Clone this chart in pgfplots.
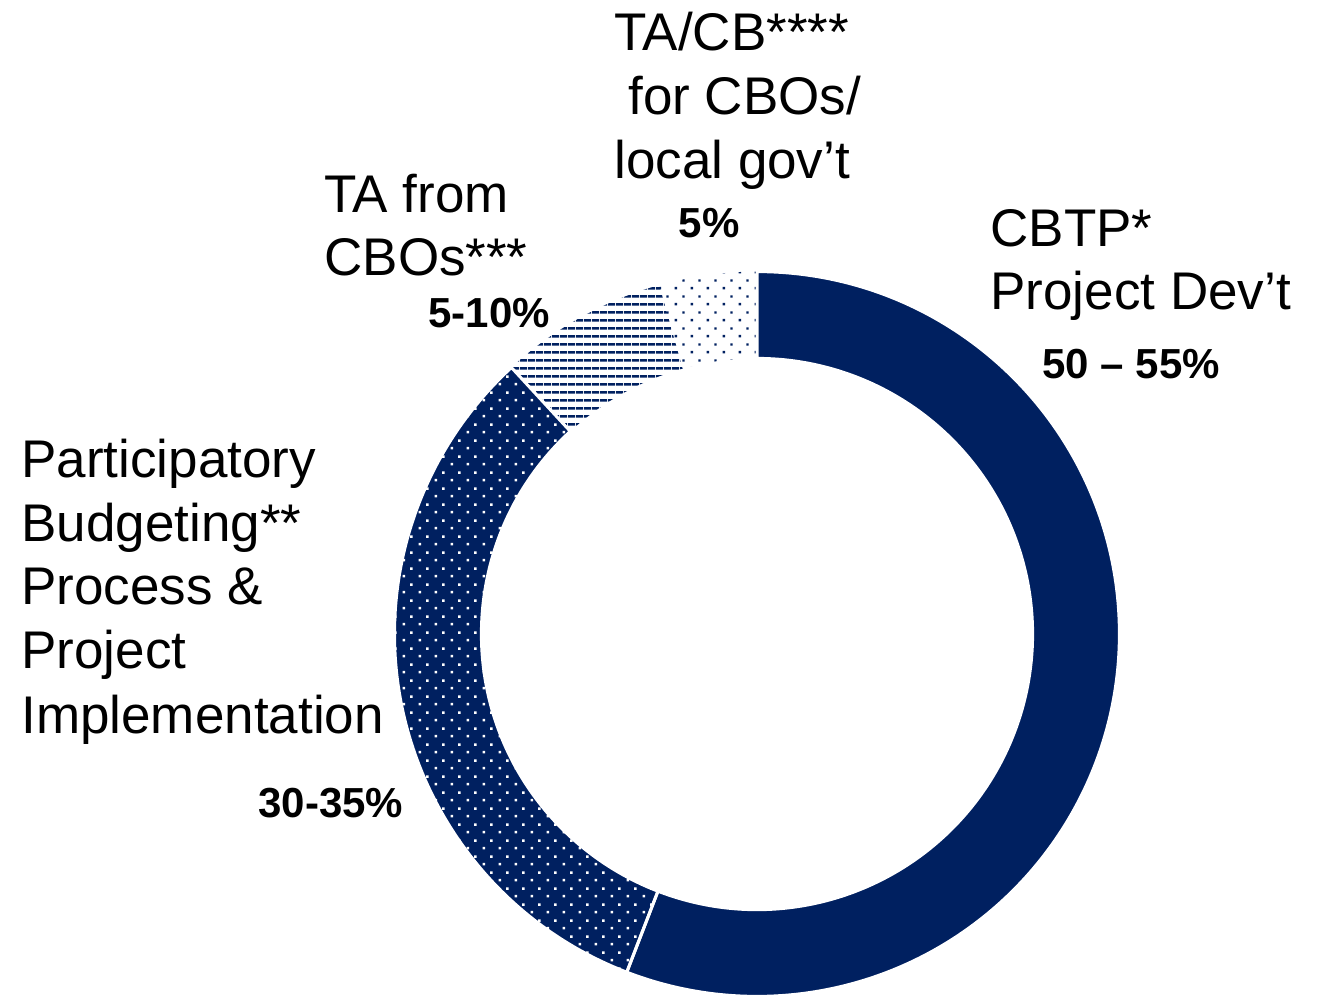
\documentclass[border=0pt]{standalone}
\usepackage{pgfplots}
\pgfplotsset{compat=1.18}
\usepackage{pgfplotstable}
\usetikzlibrary{patterns}
\usepackage{fontspec}
\setmainfont{Liberation Sans}
\definecolor{navy}{HTML}{002060}
\pgfdeclarepatternformonly{stagdots}{\pgfpoint{0pt}{0pt}}{\pgfpoint{8pt}{8pt}}{\pgfpoint{8pt}{8pt}}{%
  \pgfpathrectangle{\pgfpoint{1.4pt}{1.4pt}}{\pgfpoint{1.3pt}{1.3pt}}%
  \pgfpathrectangle{\pgfpoint{5.4pt}{5.4pt}}{\pgfpoint{1.3pt}{1.3pt}}%
  \pgfusepath{fill}}
\pgfdeclarepatternformonly{hstripes}{\pgfpoint{0pt}{0pt}}{\pgfpoint{4pt}{4pt}}{\pgfpoint{4pt}{4pt}}{%
  \pgfpathrectangle{\pgfpoint{0pt}{1.3pt}}{\pgfpoint{4pt}{1.4pt}}%
  \pgfusepath{fill}}
\newcommand\lab{\fontsize{26.5}{31}\selectfont}
\newcommand\pct{\fontsize{21}{25}\selectfont\bfseries}

\pgfplotstableread{
label value
CBTP 55.85
PB 32.3
TAfrom 7.5
TACB 4.35
}\shares

\begin{document}
\begin{tikzpicture}
\pgfplotstablegetelem{0}{value}\of\shares\edef\vA{\pgfplotsretval}
\pgfplotstablegetelem{1}{value}\of\shares\edef\vB{\pgfplotsretval}
\pgfplotstablegetelem{2}{value}\of\shares\edef\vC{\pgfplotsretval}
\pgfplotstablegetelem{3}{value}\of\shares\edef\vD{\pgfplotsretval}
\pgfmathsetmacro\aA{90}
\pgfmathsetmacro\aB{90-3.6*\vA}
\pgfmathsetmacro\aC{\aB-3.6*\vB}
\pgfmathsetmacro\aD{\aC-3.6*\vC}
\pgfmathsetmacro\aE{\aD-3.6*\vD}
\def\Ro{181.2pt}
\def\Ri{137.8pt}
\def\ringpath#1#2{(#1:\Ro) arc[start angle=#1, end angle=#2, radius=\Ro] -- (#2:\Ri) arc[start angle=#2, end angle=#1, radius=\Ri] -- cycle}
\begin{axis}[
  at={(0,0)}, anchor=south west,
  width=659.5pt, height=498pt, scale only axis,
  xmin=0, xmax=1319, ymin=0, ymax=996, y dir=reverse,
  hide axis, clip=false]
\coordinate (BL) at (axis cs:0,996);
\coordinate (TR) at (axis cs:1319,0);
\begin{scope}[shift={(axis cs:757,634)}]
  \fill[navy] \ringpath{\aA}{\aB};
  \path[fill=navy, postaction={pattern=stagdots, pattern color=white}] \ringpath{\aB}{\aC};
  \path[pattern=hstripes, pattern color=navy] \ringpath{\aC}{\aD};
  \path[pattern=stagdots, pattern color=navy] \ringpath{\aD}{\aE};
  \draw[white, line width=1.5pt] \ringpath{\aA}{\aB};
  \draw[white, line width=1.5pt] \ringpath{\aB}{\aC};
\end{scope}
% labels
\node[anchor=base west, inner sep=0] at (axis cs:614,50) {\lab TA/CB****};
\node[anchor=base west, inner sep=0] at (axis cs:628,114) {\lab for CBOs/};
\node[anchor=base west, inner sep=0] at (axis cs:614,178) {\lab local gov’t};
\node[anchor=base, inner sep=0] at (axis cs:709,237) {\pct 5\%};
\node[anchor=base west, inner sep=0] at (axis cs:324,212) {\lab TA from};
\node[anchor=base west, inner sep=0] at (axis cs:324,275) {\lab CBOs***};
\node[anchor=base west, inner sep=0] at (axis cs:428,327) {\pct 5-10\%};
\node[anchor=base west, inner sep=0] at (axis cs:990,246) {\lab CBTP*};
\node[anchor=base west, inner sep=0] at (axis cs:990,309) {\lab Project Dev’t};
\node[anchor=base west, inner sep=0] at (axis cs:1042,378) {\pct 50 – 55\%};
\node[anchor=base west, inner sep=0] at (axis cs:21,477) {\lab Participatory};
\node[anchor=base west, inner sep=0] at (axis cs:21,541) {\lab Budgeting**};
\node[anchor=base west, inner sep=0] at (axis cs:21,604) {\lab Process \&};
\node[anchor=base west, inner sep=0] at (axis cs:21,668) {\lab Project};
\node[anchor=base west, inner sep=0] at (axis cs:21,733) {\lab Implementation};
\node[anchor=base west, inner sep=0] at (axis cs:258,817) {\pct 30-35\%};
\end{axis}
\pgfresetboundingbox
\path[use as bounding box] (BL) rectangle (TR);
\end{tikzpicture}
\end{document}
